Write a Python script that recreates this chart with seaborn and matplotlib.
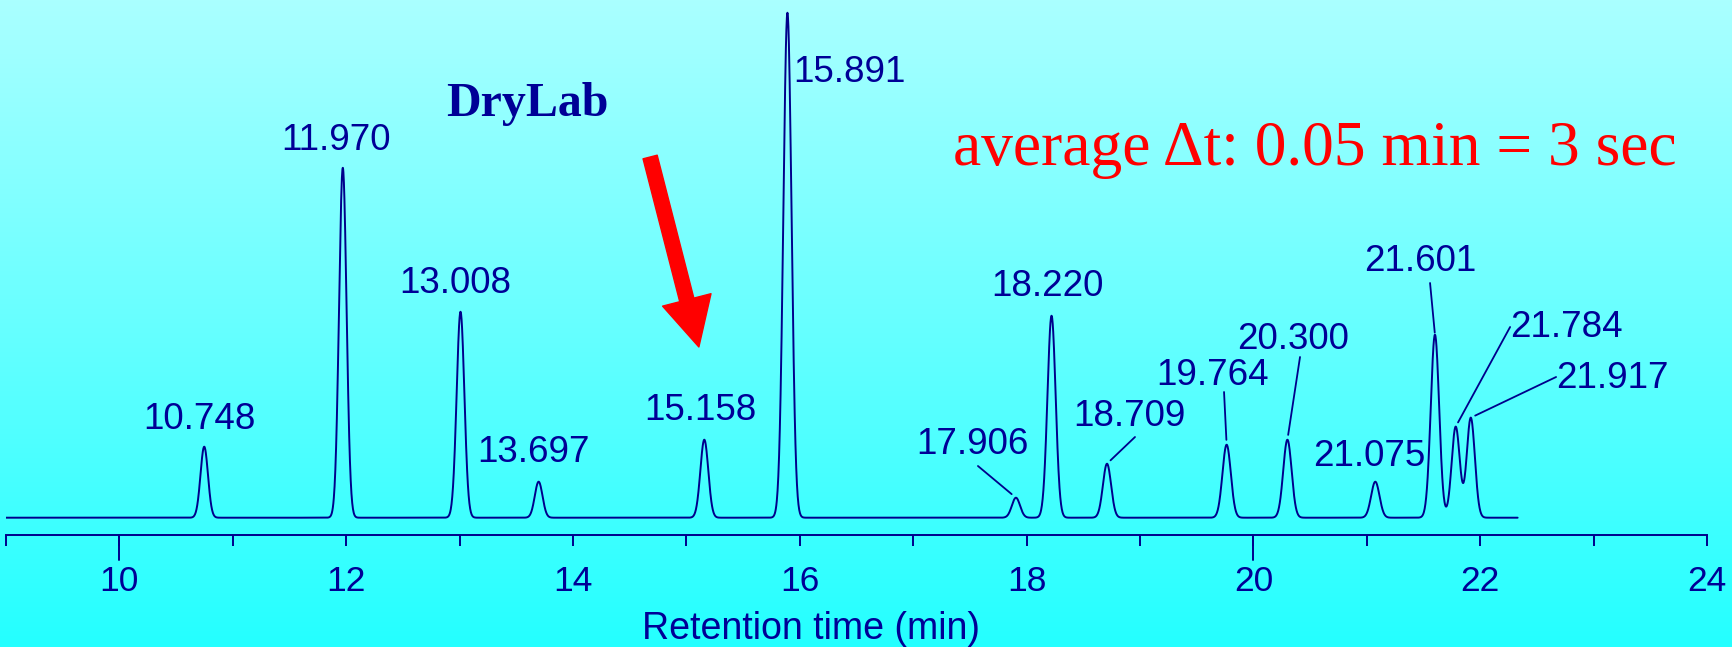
import numpy as np
import pandas as pd
import matplotlib
matplotlib.use("Agg")
import matplotlib.pyplot as plt
import matplotlib.transforms as mtransforms
from matplotlib.patches import FancyArrowPatch, ArrowStyle
import seaborn as sns

# ---------------- data ----------------
retention_times = [10.748, 11.970, 13.008, 13.697, 15.158, 15.891, 17.906, 18.220,
                   18.709, 19.764, 20.300, 21.075, 21.601, 21.784, 21.917]
peak_heights = [71, 350, 206, 36, 78, 505, 20, 202, 54, 73, 78, 36, 183, 91, 100]
peak_sigmas = [0.033, 0.033, 0.034, 0.034, 0.035, 0.036, 0.036, 0.036,
               0.036, 0.037, 0.037, 0.037, 0.037, 0.036, 0.036]
peak_labels = ["10.748", "11.970", "13.008", "13.697", "15.158", "15.891", "17.906", "18.220",
               "18.709", "19.764", "20.300", "21.075", "21.601", "21.784", "21.917"]
run_start, run_end = 9.0, 22.33
major_ticks = [10, 12, 14, 16, 18, 20, 22, 24]
minor_ticks = [9, 11, 13, 15, 17, 19, 21, 23]
long_ticks = [10, 20]
x_label = "Retention time (min)"
title_text = "DryLab"
note_text = "average \u0394t: 0.05 min = 3 sec"

# ---------------- layout (pixel offsets of labels from peak apex) ----------------
label_layout = {  # label: (dx, dy, ha)
    "10.748": (-5, 18, "center"), "11.970": (-7, 18, "center"), "13.008": (-5, 19, "center"),
    "13.697": (-5, 20, "center"), "15.158": (-4, 20, "center"), "15.891": (5.6, -69, "left"),
    "17.906": (-44, 44, "center"), "18.220": (-4.5, 19.5, "center"), "18.709": (22, 38, "center"),
    "19.764": (-14, 60, "center"), "20.300": (6, 91, "center"), "21.075": (-6, 16, "center"),
    "21.601": (-15, 63.5, "center"), "21.784": (54.4, 89.5, "left"), "21.917": (85.3, 29.5, "left"),
}
leader_layout = {  # label: (start dx, start dy, shrink at apex in pt)
    "17.906": (-38, 31.7, 4), "18.709": (28, 26.7, 3.5), "19.764": (-2.6, 52.7, 3.5),
    "20.300": (12.6, 82.7, 3.5), "21.601": (-4.9, 51.7, 1.5), "21.784": (54.4, 99.7, 3.5),
    "21.917": (85.3, 40.7, 3.5),
}

navy_line = "#00008b"
navy_text = "#000096"

# ---------------- build trace ----------------
t = np.linspace(run_start, run_end, 6000)
signal = np.zeros_like(t)
for rt, h, s in zip(retention_times, peak_heights, peak_sigmas):
    signal += h * np.exp(-0.5 * ((t - rt) / s) ** 2)
df = pd.DataFrame({"time": t, "signal": signal})

sns.set_style("white")
plt.rcParams["font.family"] = ["Liberation Sans", "DejaVu Sans"]

W, H = 1733, 647
fig = plt.figure(figsize=(W / 100, H / 100), dpi=100)

# gradient background
bg = fig.add_axes([0, 0, 1, 1], zorder=0)
top = np.array([170, 255, 255]) / 255
bot = np.array([36, 255, 255]) / 255
fr = np.linspace(0, 1, 256)[:, None]
grad = (top[None, :] * (1 - fr) + bot[None, :] * fr)[:, None, :]
bg.imshow(grad, aspect="auto", extent=[0, 1, 0, 1], origin="upper")
bg.axis("off")

ax = fig.add_axes([6 / W, 112 / H, 1701 / W, 535 / H], zorder=1)
ax.patch.set_alpha(0)

sns.lineplot(data=df, x="time", y="signal", ax=ax, color=navy_line, linewidth=1.4,
             estimator=None, sort=False)

ax.set_xlim(9, 24)
ax.set_ylim(-17.3, 517.7)
for sp in ["left", "top", "right"]:
    ax.spines[sp].set_visible(False)
ax.spines["bottom"].set_color(navy_line)
ax.spines["bottom"].set_linewidth(1.4)
ax.set_yticks([])
ax.set_ylabel("")
ax.set_xticks(major_ticks)
ax.set_xticks(minor_ticks, minor=True)
ax.tick_params(axis="x", which="both", bottom=True, direction="out", length=8, width=1.4,
               color=navy_line, labelsize=25.5, labelcolor=navy_text, pad=13.4)
blend = mtransforms.blended_transform_factory(ax.transData, ax.transAxes)
for v in long_ticks:
    ax.plot([v, v], [0, -25 / 535], transform=blend, color=navy_line, lw=1.4, clip_on=False)

ax.set_xlabel(x_label, fontsize=27, color=navy_text)
ax.xaxis.set_label_coords(0.4733, -0.142)

# peak labels
for rt, h, lab in zip(retention_times, peak_heights, peak_labels):
    dx, dy, ha = label_layout[lab]
    ax.annotate(lab, xy=(rt, h), xytext=(dx, dy), textcoords="offset pixels",
                ha=ha, va="baseline", fontsize=26.5, color=navy_text)
    if lab in leader_layout:
        sx, sy, shr = leader_layout[lab]
        ax.annotate("", xy=(rt, h), xytext=(sx, sy), textcoords="offset pixels",
                    arrowprops=dict(arrowstyle="-", color=navy_line, lw=1.3,
                                    shrinkA=0, shrinkB=shr))

# DryLab title
ax.text(13.599, 401.7, title_text, fontfamily="Liberation Serif", fontweight="bold",
        fontsize=34.5, color=navy_text, ha="center", va="baseline")
# red note
ax.text(17.351, 352.7, note_text, fontfamily=["Liberation Serif", "DejaVu Serif"],
        fontsize=45.7, color="red", ha="left", va="baseline")

# red arrow
arrow = FancyArrowPatch(posA=(14.68, 360.7), posB=(15.11, 170.7),
                        arrowstyle=ArrowStyle.Simple(head_length=35, head_width=36, tail_width=10.5),
                        mutation_scale=1, color="red", shrinkA=0, shrinkB=0, zorder=5)
ax.add_patch(arrow)

fig.savefig("out.png", dpi=100)
